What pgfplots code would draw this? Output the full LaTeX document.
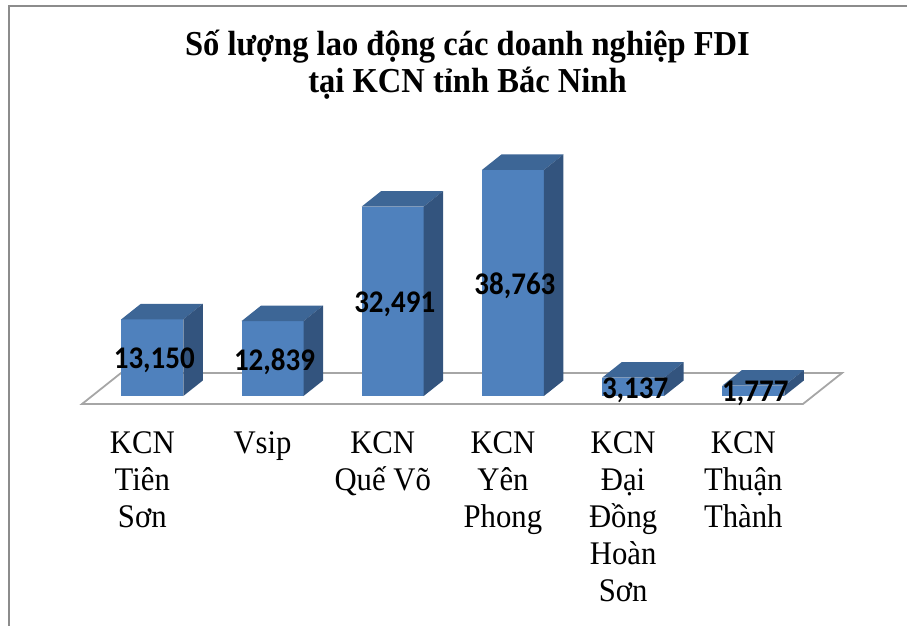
\documentclass[border=0pt]{standalone}
\usepackage{fontspec}
\setmainfont{Liberation Serif}
\newfontfamily\condserif[FakeStretch=0.93]{Liberation Serif}
\newfontfamily\carlito[FakeStretch=0.92]{Carlito}
\usepackage{pgfplots}
\usepackage{pgfplotstable}
\pgfplotsset{compat=1.18}
\definecolor{barfront}{HTML}{4F81BD}
\definecolor{bartop}{HTML}{3D6696}
\definecolor{barside}{HTML}{33547E}
\definecolor{floorgray}{HTML}{A6A6A6}
\definecolor{framegray}{HTML}{8C8C8C}

\pgfplotstableread{
x v
0 13150
1 12839
2 32491
3 38763
4 3137
5 1777
}\datatable
\pgfplotstableread{
p q r
0 0 0
1 0 0
1 0 1
0 0 1
}\frontface
\pgfplotstableread{
p q r
0 0 1
1 0 1
1 1 1
0 1 1
}\topface
\pgfplotstableread{
p q r
1 0 0
1 1 0
1 1 1
1 0 1
}\sideface
\newcommand\hw{0.2579}
\newcommand\dxu{0.1622}
\newcommand\dyu{2658}

\begin{document}
\begin{tikzpicture}
\useasboundingbox (0pt,-222pt) rectangle (907pt,404pt);
\draw[framegray, line width=1.6pt] (9pt,-222pt) -- (9pt,398pt) -- (907pt,398pt);
\node[anchor=base, font=\condserif\bfseries\fontsize{35}{37}\selectfont] at (467.5pt,348pt) {Số lượng lao động các doanh nghiệp FDI};
\node[anchor=base, font=\condserif\bfseries\fontsize{35}{37}\selectfont] at (467.5pt,311pt) {tại KCN tỉnh Bắc Ninh};
\begin{axis}[
  at={(0pt,0pt)}, anchor=south west,
  scale only axis, width=907pt, height=404pt,
  xmin=-1.2671, xmax=6.2787, ymin=-1372, ymax=67914,
  clip=false,
  axis line style={draw=none},
  major tick length=0pt,
  ytick=\empty,
  xtick={0,...,5},
  xticklabels={{KCN\\Tiên\\Sơn},{Vsip},{KCN\\Quế Võ},{KCN\\Yên\\Phong},{KCN\\Đại\\Đồng\\Hoàn\\Sơn},{KCN\\Thuận\\Thành}},
  xticklabel style={align=center, font=\condserif\fontsize{33}{37}\selectfont, inner sep=0pt, anchor=north, xshift=-10pt, yshift=-27pt},
]
\addplot[draw=floorgray, line width=1.8pt] coordinates {(-0.585,-1372) (5.413,-1372) (5.738,3944.5) (-0.2604,3944.5)} --cycle;
\pgfplotsinvokeforeach{0,...,5}{
  \pgfplotstablegetelem{#1}{v}\of\datatable
  \let\barval\pgfplotsretval
  \addplot[draw=none, fill=barfront] table[x expr={#1-\hw+2*\hw*\thisrow{p}+\dxu*\thisrow{q}}, y expr={\barval*\thisrow{r}+\dyu*\thisrow{q}}]{\frontface} --cycle;
  \addplot[draw=none, fill=bartop] table[x expr={#1-\hw+2*\hw*\thisrow{p}+\dxu*\thisrow{q}}, y expr={\barval*\thisrow{r}+\dyu*\thisrow{q}}]{\topface} --cycle;
  \addplot[draw=none, fill=barside] table[x expr={#1-\hw+2*\hw*\thisrow{p}+\dxu*\thisrow{q}}, y expr={\barval*\thisrow{r}+\dyu*\thisrow{q}}]{\sideface} --cycle;
}
\addplot[draw=none, mark=none, point meta=explicit,
  nodes near coords={\pgfmathprintnumber[fixed,precision=0,1000 sep={,},assume math mode=true]{\pgfplotspointmeta}},
  every node near coord/.append style={anchor=center, xshift=2pt, yshift=-3pt, font=\carlito\bfseries\fontsize{31.5}{31.5}\selectfont, text=black}]
  table[x=x, y expr=\thisrow{v}/2, meta=v]{\datatable};
\end{axis}
\end{tikzpicture}
\end{document}
